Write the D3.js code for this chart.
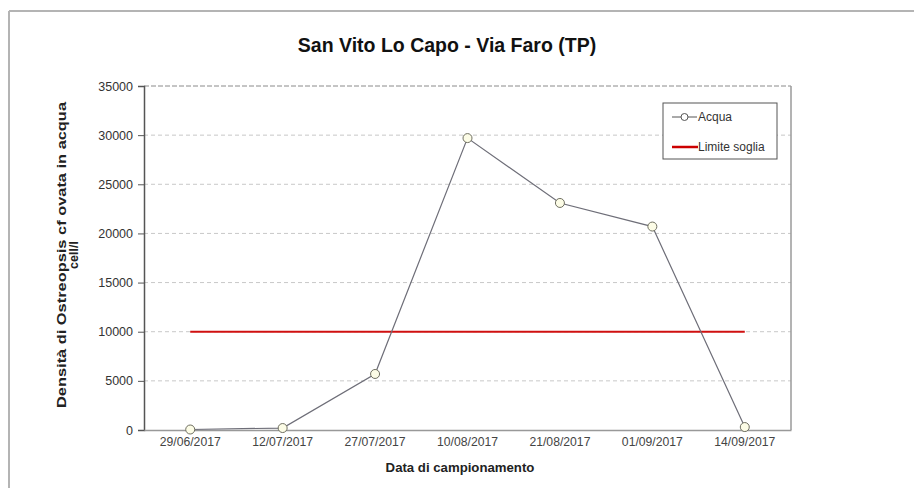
<!DOCTYPE html>
<html><head><meta charset="utf-8">
<script src="https://cdn.jsdelivr.net/npm/d3@7"></script>
<style>body{margin:0;background:#fff;} svg{display:block;font-family:Arial,"Liberation Sans",sans-serif;}</style>
</head><body>
<svg id="c" width="914" height="488"></svg>
<script>
const categories = ["29/06/2017","12/07/2017","27/07/2017","10/08/2017","21/08/2017","01/09/2017","14/09/2017"];
const acqua = [50, 200, 5700, 29700, 23100, 20700, 300];
const soglia = [10000, 10000, 10000, 10000, 10000, 10000, 10000];
const yTicks = [0, 5000, 10000, 15000, 20000, 25000, 30000, 35000];
const title = "San Vito Lo Capo - Via Faro (TP)";
const yLabel = ["Densità di Ostreopsis  cf ovata in acqua", "cell/l"];
const xLabel = "Data di campionamento";
const seriesNames = ["Acqua", "Limite soglia"];

const svg = d3.select("#c");
const m = {l:144, r:791, t:86, b:430};
// outer frame
svg.append("line").attr("x1",9).attr("x2",914).attr("y1",11).attr("y2",11).attr("stroke","#b4b4b4").attr("stroke-width",2);
svg.append("line").attr("x1",9).attr("x2",9).attr("y1",11).attr("y2",488).attr("stroke","#b4b4b4").attr("stroke-width",2);

const x = d3.scaleBand().domain(categories).range([m.l, m.r]);
const y = d3.scaleLinear().domain([0, 35000]).range([m.b, m.t]);
const cx = d => x(d) + x.bandwidth()/2;

// gridlines
svg.append("g").selectAll("line").data(yTicks.filter(t=>t>0 && t<35000)).join("line")
  .attr("x1",m.l).attr("x2",m.r).attr("y1",d=>y(d)).attr("y2",d=>y(d))
  .attr("stroke","#c8c8c8").attr("stroke-dasharray","4,3").attr("stroke-width",1);

// plot box
svg.append("line").attr("x1",m.l).attr("x2",m.r).attr("y1",y(35000)).attr("y2",y(35000)).attr("stroke","#8a8a8a").attr("stroke-dasharray","5,2");
svg.append("line").attr("x1",m.r).attr("x2",m.r).attr("y1",m.t).attr("y2",m.b).attr("stroke","#9a9a9a").attr("stroke-width",1.5);

// y axis
const ya = svg.append("g").attr("transform",`translate(${m.l},0)`)
  .call(d3.axisLeft(y).tickValues(yTicks).tickFormat(d3.format("d")).tickSize(6).tickPadding(5));
ya.select(".domain").attr("stroke","#555").attr("stroke-width",1.5);
ya.selectAll(".tick line").attr("stroke","#555");
ya.selectAll("text").attr("font-size",12.5).attr("fill","#333").attr("font-family","Arial,'Liberation Sans',sans-serif");

// x axis
const xa = svg.append("g").attr("transform",`translate(0,${m.b})`)
  .call(d3.axisBottom(x).tickSize(0).tickPadding(7));
xa.select(".domain").attr("stroke","#999").attr("stroke-width",1.5);
xa.selectAll("text").attr("font-size",12.2).attr("fill","#444").attr("font-family","Arial,'Liberation Sans',sans-serif");

// threshold
svg.append("path").datum(soglia)
  .attr("d", d3.line().x((d,i)=>cx(categories[i])).y(d=>y(d)))
  .attr("fill","none").attr("stroke","#d01010").attr("stroke-width",2);

// acqua line
svg.append("path").datum(acqua)
  .attr("d", d3.line().x((d,i)=>cx(categories[i])).y(d=>y(d)))
  .attr("fill","none").attr("stroke","#6e6e78").attr("stroke-width",1.2);
svg.append("g").selectAll("circle").data(acqua).join("circle")
  .attr("cx",(d,i)=>cx(categories[i])).attr("cy",d=>y(d)).attr("r",4.5)
  .attr("fill","#fcfce6").attr("stroke","#6e6e60").attr("stroke-width",1);

// title
svg.append("text").attr("x",447).attr("y",52).attr("text-anchor","middle")
  .attr("font-size",19.5).attr("font-weight","bold").attr("fill","#111").text(title);

// y label
const yl = svg.append("text").attr("transform","translate(67,255) rotate(-90)").attr("text-anchor","middle")
  .attr("font-size",12.5).attr("font-weight","bold").attr("fill","#222");
yl.append("tspan").attr("x",0).attr("dy",-1.5).attr("textLength",306).attr("lengthAdjust","spacingAndGlyphs").text(yLabel[0]);
yl.append("tspan").attr("x",0).attr("dy",12.5).text(yLabel[1]);

// x label
svg.append("text").attr("x",460).attr("y",472).attr("text-anchor","middle")
  .attr("font-size",13.2).attr("font-weight","bold").attr("fill","#222").text(xLabel);

// legend
const lg = svg.append("g");
lg.append("rect").attr("x",663).attr("y",103).attr("width",114).attr("height",56)
  .attr("fill","#fff").attr("stroke","#555").attr("stroke-width",1);
lg.append("line").attr("x1",672).attr("x2",697).attr("y1",117).attr("y2",117).attr("stroke","#555").attr("stroke-width",1);
lg.append("circle").attr("cx",684.5).attr("cy",117).attr("r",3.5).attr("fill","#fff").attr("stroke","#555");
lg.append("line").attr("x1",672).attr("x2",698).attr("y1",147).attr("y2",147).attr("stroke","#c00").attr("stroke-width",2.5);
lg.append("text").attr("x",698).attr("y",121).attr("font-size",12).attr("fill","#333").text(seriesNames[0]);
lg.append("text").attr("x",698).attr("y",151).attr("font-size",12).attr("fill","#333").text(seriesNames[1]);
</script>
</body></html>
